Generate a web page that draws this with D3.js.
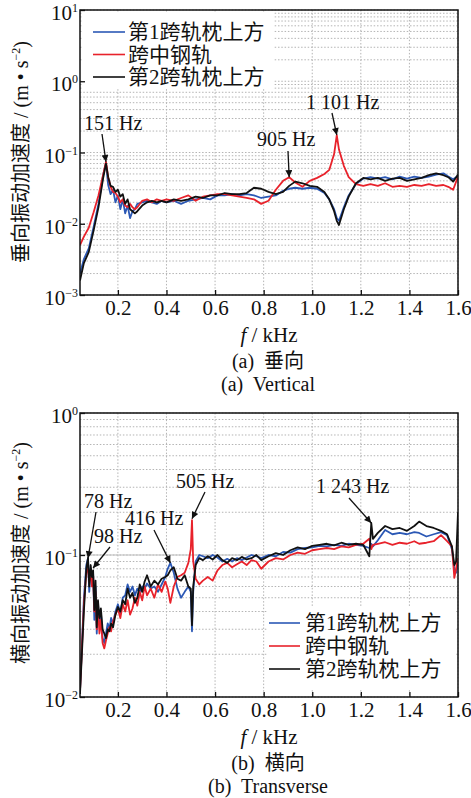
<!DOCTYPE html>
<html>
<head>
<meta charset="utf-8">
<script src="https://cdn.jsdelivr.net/npm/d3@7"></script>
<style>
body { margin: 0; background: #fff; }
text { font-family: "Liberation Serif", "Noto Sans CJK SC", serif; fill: #111; }
</style>
</head>
<body>
<script>
'use strict';
// ---- data ----
let seriesNames = ["第1跨轨枕上方", "跨中钢轨", "第2跨轨枕上方"];
let xTicks = [0.2, 0.4, 0.6, 0.8, 1.0, 1.2, 1.4, 1.6];
let xTickLabels = ["0.2", "0.4", "0.6", "0.8", "1.0", "1.2", "1.4", "1.6"];
let yTicksA = [1e-3, 1e-2, 1e-1, 1, 10];
let yExpA = ["−3", "−2", "−1", "0", "1"];
let yTicksB = [1e-2, 1e-1, 1];
let yExpB = ["−2", "−1", "0"];

// (a) vertical
let freqA = [0.044,0.06,0.08,0.1,0.12,0.14,0.151,0.16,0.17,0.18,0.19,0.2,0.21,0.22,0.23,0.24,0.25,0.26,0.27,0.28,
  0.3,0.32,0.34,0.36,0.38,0.4,0.43,0.46,0.49,0.52,0.55,0.58,0.61,0.64,0.67,0.7,0.73,0.76,0.79,0.82,
  0.85,0.88,0.905,0.93,0.96,0.99,1.02,1.05,1.07,1.09,1.101,1.11,1.13,1.15,1.18,1.21,1.24,1.27,1.3,1.33,
  1.36,1.39,1.42,1.45,1.48,1.51,1.54,1.56,1.58,1.6];
let vertSleeper1 = [0.002,0.0032,0.0045,0.009,0.019,0.05,0.07,0.035,0.026,0.03,0.02,0.025,0.016,0.022,0.014,0.018,0.012,0.015,0.016,0.019,
  0.02,0.021,0.02,0.019,0.021,0.02,0.021,0.019,0.021,0.022,0.023,0.022,0.025,0.025,0.026,0.025,0.026,0.025,0.023,0.024,
  0.025,0.029,0.031,0.032,0.031,0.032,0.031,0.027,0.022,0.016,0.012,0.011,0.017,0.025,0.036,0.043,0.045,0.043,0.045,0.042,
  0.046,0.043,0.046,0.044,0.046,0.049,0.051,0.046,0.042,0.047];
let vertMidRail = [0.005,0.0066,0.0088,0.0145,0.025,0.05,0.074,0.045,0.033,0.028,0.027,0.024,0.02,0.022,0.018,0.017,0.019,0.017,0.016,0.017,
  0.021,0.022,0.02,0.022,0.021,0.022,0.021,0.023,0.025,0.021,0.024,0.025,0.026,0.026,0.025,0.024,0.023,0.022,0.019,0.021,
  0.03,0.04,0.045,0.038,0.033,0.04,0.044,0.05,0.057,0.095,0.175,0.11,0.065,0.045,0.036,0.034,0.036,0.034,0.037,0.033,
  0.034,0.033,0.035,0.034,0.036,0.034,0.035,0.033,0.03,0.046];
let vertSleeper2 = [0.0016,0.0028,0.004,0.008,0.017,0.045,0.07,0.045,0.034,0.033,0.028,0.03,0.024,0.026,0.019,0.022,0.016,0.015,0.014,0.015,
  0.018,0.02,0.021,0.02,0.021,0.02,0.022,0.021,0.022,0.024,0.023,0.025,0.025,0.027,0.026,0.026,0.027,0.032,0.031,0.028,
  0.026,0.028,0.034,0.039,0.037,0.034,0.033,0.028,0.022,0.015,0.011,0.0096,0.016,0.024,0.037,0.044,0.042,0.044,0.04,0.043,
  0.044,0.04,0.042,0.044,0.048,0.051,0.048,0.045,0.039,0.049];
let peaksA = [
  {label: "151 Hz", f: 0.151, v: 0.074},
  {label: "905 Hz", f: 0.905, v: 0.045},
  {label: "1 101 Hz", f: 1.101, v: 0.176}
];

// (b) transverse
let freqB = [0.044,0.06,0.07,0.077,0.082,0.088,0.093,0.098,0.103,0.108,0.113,0.118,0.124,0.13,0.137,0.144,0.151,0.158,0.165,0.172,
  0.18,0.19,0.2,0.21,0.22,0.23,0.24,0.25,0.26,0.27,0.28,0.29,0.3,0.31,0.32,0.335,0.35,0.365,0.38,0.395,
  0.405,0.416,0.43,0.445,0.46,0.475,0.49,0.5,0.505,0.51,0.52,0.535,0.55,0.57,0.59,0.61,0.63,0.65,0.67,0.69,
  0.71,0.73,0.75,0.77,0.79,0.82,0.85,0.88,0.91,0.94,0.97,1.0,1.03,1.06,1.09,1.12,1.15,1.18,1.21,1.235,
  1.243,1.25,1.27,1.3,1.33,1.36,1.39,1.42,1.44,1.47,1.5,1.53,1.555,1.575,1.585,1.592,1.6];
let latSleeper1 = [0.011,0.05,0.085,0.095,0.055,0.08,0.065,0.075,0.035,0.06,0.028,0.045,0.033,0.04,0.026,0.024,0.028,0.033,0.03,0.036,
  0.033,0.04,0.045,0.039,0.05,0.052,0.062,0.055,0.06,0.052,0.058,0.055,0.06,0.058,0.063,0.058,0.06,0.055,0.062,0.07,
  0.08,0.088,0.075,0.058,0.05,0.055,0.06,0.055,0.029,0.055,0.09,0.1,0.098,0.095,0.1,0.096,0.09,0.094,0.09,0.095,
  0.092,0.096,0.1,0.098,0.095,0.1,0.098,0.105,0.104,0.11,0.112,0.113,0.116,0.115,0.118,0.116,0.12,0.118,0.116,0.112,
  0.12,0.115,0.127,0.15,0.14,0.143,0.14,0.145,0.143,0.135,0.14,0.145,0.138,0.11,0.08,0.075,0.09];
let latMidRail = [0.011,0.045,0.075,0.08,0.065,0.078,0.06,0.072,0.04,0.055,0.03,0.042,0.028,0.035,0.024,0.022,0.025,0.028,0.031,0.029,
  0.034,0.038,0.042,0.036,0.045,0.04,0.048,0.038,0.042,0.05,0.044,0.055,0.048,0.06,0.052,0.058,0.05,0.062,0.055,0.065,
  0.058,0.046,0.06,0.07,0.072,0.075,0.088,0.11,0.176,0.09,0.068,0.062,0.066,0.07,0.066,0.078,0.085,0.088,0.082,0.086,
  0.09,0.085,0.092,0.09,0.08,0.09,0.095,0.093,0.1,0.104,0.102,0.108,0.11,0.112,0.11,0.115,0.113,0.118,0.12,0.13,
  0.11,0.118,0.12,0.123,0.118,0.122,0.12,0.125,0.12,0.122,0.125,0.138,0.125,0.115,0.069,0.08,0.095];
let latSleeper2 = [0.0105,0.04,0.08,0.095,0.06,0.085,0.07,0.078,0.041,0.066,0.031,0.048,0.036,0.042,0.03,0.028,0.026,0.03,0.029,0.033,
  0.031,0.038,0.043,0.04,0.048,0.045,0.058,0.05,0.054,0.046,0.05,0.062,0.055,0.065,0.072,0.06,0.066,0.062,0.068,0.07,
  0.072,0.078,0.082,0.068,0.066,0.072,0.06,0.058,0.032,0.06,0.085,0.095,0.092,0.098,0.093,0.1,0.092,0.088,0.095,0.092,
  0.097,0.093,0.095,0.1,0.092,0.098,0.103,0.1,0.108,0.113,0.11,0.116,0.118,0.12,0.117,0.122,0.118,0.12,0.118,0.098,
  0.168,0.13,0.143,0.16,0.152,0.155,0.148,0.16,0.172,0.16,0.155,0.148,0.14,0.115,0.085,0.09,0.2];
let peaksB = [
  {label: "78 Hz", f: 0.077, v: 0.095},
  {label: "98 Hz", f: 0.098, v: 0.081},
  {label: "416 Hz", f: 0.416, v: 0.088},
  {label: "505 Hz", f: 0.505, v: 0.18},
  {label: "1 243 Hz", f: 1.243, v: 0.168}
];

// ---- drawing ----
let colors = ["#2b58b5", "#e8222b", "#111111"];
let left = 80, right = 458;

let svg = d3.select("body").append("svg")
  .attr("width", 471)
  .attr("height", 798);

svg.append("defs").append("marker")
  .attr("id", "arrow")
  .attr("viewBox", "0 0 10 10")
  .attr("refX", 10).attr("refY", 5)
  .attr("markerWidth", 11).attr("markerHeight", 7)
  .attr("markerUnits", "userSpaceOnUse")
  .attr("orient", "auto")
  .append("path").attr("d", "M0,0L10,5L0,10Z").attr("fill", "#111");

function drawPanel(p) {
  let x = d3.scaleLinear().domain([0.044, 1.6]).range([left, right]);
  let y = d3.scaleLog().domain(p.yDomain).range([p.bottom, p.top]);
  let g = svg.append("g");

  g.append("clipPath").attr("id", p.id + "clip")
    .append("rect").attr("x", left).attr("y", p.top)
    .attr("width", right - left).attr("height", p.bottom - p.top);

  // grid
  g.append("g").selectAll("line")
    .data(y.ticks())
    .enter().append("line")
      .attr("x1", left).attr("x2", right)
      .attr("y1", d => y(d)).attr("y2", d => y(d))
      .attr("stroke", "#b4b4b4")
      .attr("stroke-width", 1)
      .attr("stroke-dasharray", "1.5,1.8");
  g.append("g").selectAll("line")
    .data(xTicks)
    .enter().append("line")
      .attr("x1", d => x(d)).attr("x2", d => x(d))
      .attr("y1", p.top).attr("y2", p.bottom)
      .attr("stroke", "#b4b4b4")
      .attr("stroke-width", 1)
      .attr("stroke-dasharray", "1.5,1.8");
  if (p.solidLine) {
    g.append("line")
      .attr("x1", left).attr("x2", right)
      .attr("y1", y(p.solidLine)).attr("y2", y(p.solidLine))
      .attr("stroke", "#bdbdbd").attr("stroke-width", 1.2);
  }

  // white legend box over the grid
  let lg = p.legend;
  g.append("rect")
    .attr("x", lg.x0).attr("y", lg.y0)
    .attr("width", lg.w).attr("height", lg.h)
    .attr("fill", "#fff");

  // curves
  let line = d3.line().x(d => x(d[0])).y(d => y(d[1]));
  let curves = g.append("g").attr("clip-path", `url(#${p.id}clip)`);
  p.series.forEach(function(s, i) {
    curves.append("path")
      .datum(d3.zip(p.freq, s))
      .attr("d", line)
      .attr("fill", "none")
      .attr("stroke", colors[i])
      .attr("stroke-width", 1.8)
      .attr("stroke-linejoin", "round");
  });

  // legend entries
  seriesNames.forEach(function(name, i) {
    let yy = lg.rowY + i * lg.step;
    g.append("line")
      .attr("x1", lg.lx1).attr("x2", lg.lx2)
      .attr("y1", yy).attr("y2", yy)
      .attr("stroke", colors[i]).attr("stroke-width", 1.6);
    g.append("text")
      .attr("x", lg.tx).attr("y", yy + 7)
      .attr("font-size", 21)
      .text(name);
  });

  // frame
  g.append("rect")
    .attr("x", left).attr("y", p.top)
    .attr("width", right - left).attr("height", p.bottom - p.top)
    .attr("fill", "none").attr("stroke", "#111").attr("stroke-width", 1.5);

  // axes
  let xAxis = g.append("g")
    .attr("transform", `translate(0,${p.bottom})`)
    .call(d3.axisBottom(x).tickValues(xTicks).tickSize(-5).tickPadding(5)
      .tickFormat((d, i) => xTickLabels[i]));
  xAxis.select(".domain").remove();
  xAxis.attr("font-family", null).attr("font-size", 21);
  xAxis.selectAll("line").attr("stroke", "#111").attr("stroke-width", 1.3);

  let yAxis = g.append("g")
    .attr("transform", `translate(${left},0)`)
    .call(d3.axisLeft(y).tickValues(p.yTicks).tickSize(-5).tickFormat(""));
  yAxis.select(".domain").remove();
  yAxis.selectAll("line").attr("stroke", "#111").attr("stroke-width", 1.3);

  p.yTicks.forEach(function(t, i) {
    let lab = g.append("text")
      .attr("x", 78).attr("y", y(t) + 10)
      .attr("text-anchor", "end")
      .attr("font-size", 21);
    lab.append("tspan").text("10");
    lab.append("tspan").attr("dy", -8).attr("font-size", 12).text(p.yExp[i]);
  });

  // y title
  let yt = g.append("text")
    .attr("transform", `translate(28,${p.titleY}) rotate(-90)`)
    .attr("text-anchor", "middle")
    .attr("font-size", 20);
  yt.append("tspan").text(p.yTitle + " / (m • s");
  yt.append("tspan").attr("dy", -8).attr("font-size", 12).text("−2");
  yt.append("tspan").attr("dy", 8).text(")");

  // x title and captions
  let xt = g.append("text")
    .attr("x", 269).attr("y", p.bottom + 47)
    .attr("text-anchor", "middle").attr("font-size", 21);
  xt.append("tspan").attr("font-style", "italic").text("f");
  xt.append("tspan").text(" / kHz");

  g.append("text")
    .attr("x", 268).attr("y", p.bottom + 73)
    .attr("text-anchor", "middle").attr("font-size", 20)
    .style("white-space", "pre")
    .text(p.cap1);
  g.append("text")
    .attr("x", 268).attr("y", p.bottom + 96)
    .attr("text-anchor", "middle").attr("font-size", 20)
    .style("white-space", "pre")
    .text(p.cap2);

  // peak annotations
  p.peaks.forEach(function(pk, i) {
    let o = p.notes[i];
    g.append("text")
      .attr("x", o.tx).attr("y", o.ty)
      .attr("font-size", 20)
      .text(pk.label);
    g.append("line")
      .attr("x1", o.ax).attr("y1", o.ay)
      .attr("x2", x(pk.f)).attr("y2", y(pk.v))
      .attr("stroke", "#111").attr("stroke-width", 1.3)
      .attr("marker-end", "url(#arrow)");
  });
}

drawPanel({
  id: "a", top: 10, bottom: 295, yDomain: [1e-3, 10],
  yTicks: yTicksA, yExp: yExpA,
  freq: freqA, series: [vertSleeper1, vertMidRail, vertSleeper2],
  yTitle: "垂向振动加速度", titleY: 152,
  cap1: "(a)  垂向", cap2: "(a)  Vertical",
  legend: {x0: 82, y0: 12, w: 191, h: 77, rowY: 32, step: 22.5, lx1: 93, lx2: 125, tx: 128},
  peaks: peaksA,
  notes: [
    {tx: 84, ty: 130, ax: 102, ay: 134},
    {tx: 257, ty: 146, ax: 288, ay: 151},
    {tx: 306, ty: 109, ax: 332, ay: 113}
  ]
});

drawPanel({
  id: "b", top: 413, bottom: 697, yDomain: [1e-2, 1],
  yTicks: yTicksB, yExp: yExpB, solidLine: 0.1,
  freq: freqB, series: [latSleeper1, latMidRail, latSleeper2],
  yTitle: "横向振动加速度", titleY: 553,
  cap1: "(b)  横向", cap2: "(b)  Transverse",
  legend: {x0: 267, y0: 606, w: 189, h: 84, rowY: 623, step: 23, lx1: 269, lx2: 300, tx: 305},
  peaks: peaksB,
  notes: [
    {tx: 84, ty: 508, ax: 96, ay: 512},
    {tx: 94, ty: 543, ax: 110, ay: 547},
    {tx: 125, ty: 525, ax: 154, ay: 530},
    {tx: 176, ty: 488, ax: 205, ay: 492},
    {tx: 316, ty: 493, ax: 349, ay: 498}
  ]
});
</script>
</body>
</html>
